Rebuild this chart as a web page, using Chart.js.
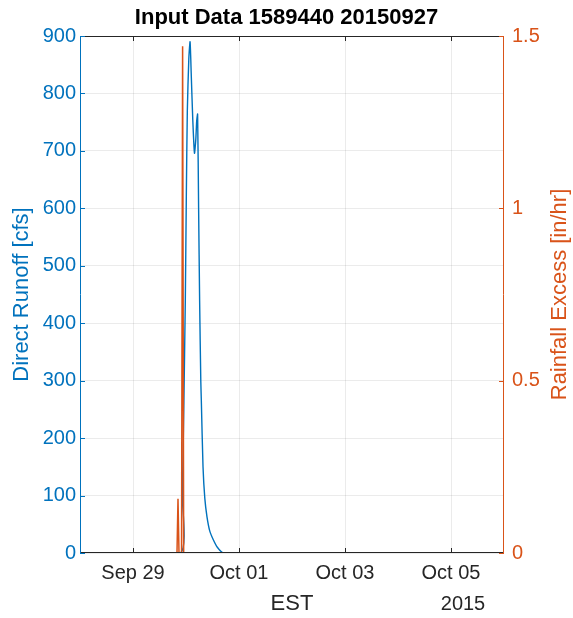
<!DOCTYPE html>
<html>
<head>
<meta charset="utf-8">
<script src="https://cdn.jsdelivr.net/npm/chart.js@4/dist/chart.umd.min.js"></script>
<style>
  body { margin: 0; background: #fff; }
  canvas { display: block; }
</style>
</head>
<body>
<canvas id="myChart" width="573" height="618"></canvas>
<script>
// days counted from Sep 28 2015 00:00 EST
const tickDays = [1, 3, 5, 7];
const tickLabels = ['Sep 29', 'Oct 01', 'Oct 03', 'Oct 05'];
const yearLabel = '2015';

const runoffDays = [0, 1.892, 1.930, 1.958, 1.987, 2.006, 2.025, 2.053, 2.077, 2.100, 2.128, 2.160, 2.185, 2.202,
    2.219, 2.238, 2.257, 2.279, 2.289, 2.321, 2.355, 2.396, 2.449, 2.515, 2.591, 2.704, 8];
const runoffCfs = [0, 0, 100, 250, 440, 620, 770, 860, 890, 830, 754, 696, 720, 752,
    764, 600, 440, 300, 266, 150, 95, 63, 38, 23, 10, 0, 0];

const rainDays = [0, 1.830, 1.849, 1.868, 1.916, 1.936, 1.956, 8];
const rainExcess = [0, 0, 0.157, 0, 0, 1.47, 0, 0];

const blue = 'rgb(0, 114, 189)';
const orange = 'rgb(217, 83, 25)';
const dark = 'rgb(38, 38, 38)';
const gridColor = 'rgba(38, 38, 38, 0.09)';
const font = 'Liberation Sans, Arial, Helvetica, sans-serif';

const toPoints = (xs, ys) => xs.map((x, i) => ({x: x, y: ys[i]}));

// MATLAB style box with inward ticks, right label reading upwards
const framePlugin = {
    id: 'frame',
    afterDraw(chart) {
        const ctx = chart.ctx;
        const a = chart.chartArea;
        const sx = chart.scales.x, sy = chart.scales.y, sy1 = chart.scales.y1;
        const t = 5;
        ctx.save();
        ctx.lineWidth = 1;
        ctx.strokeStyle = dark;
        ctx.beginPath();
        ctx.moveTo(a.left, a.top + 0.5); ctx.lineTo(a.right, a.top + 0.5);
        ctx.moveTo(a.left, a.bottom - 0.5); ctx.lineTo(a.right, a.bottom - 0.5);
        tickDays.forEach(d => {
            const px = Math.round(sx.getPixelForValue(d)) + 0.5;
            ctx.moveTo(px, a.bottom); ctx.lineTo(px, a.bottom - t);
            ctx.moveTo(px, a.top); ctx.lineTo(px, a.top + t);
        });
        ctx.stroke();
        ctx.strokeStyle = blue;
        ctx.beginPath();
        ctx.moveTo(a.left + 0.5, a.top); ctx.lineTo(a.left + 0.5, a.bottom);
        sy.ticks.forEach(tk => {
            const py = Math.round(sy.getPixelForValue(tk.value)) + 0.5;
            ctx.moveTo(a.left, py); ctx.lineTo(a.left + t, py);
        });
        ctx.stroke();
        ctx.strokeStyle = orange;
        ctx.beginPath();
        ctx.moveTo(a.right - 0.5, a.top); ctx.lineTo(a.right - 0.5, a.bottom);
        sy1.ticks.forEach(tk => {
            const py = Math.round(sy1.getPixelForValue(tk.value)) + 0.5;
            ctx.moveTo(a.right, py); ctx.lineTo(a.right - t, py);
        });
        ctx.stroke();
        ctx.fillStyle = dark;
        ctx.font = '20px ' + font;
        ctx.textAlign = 'center';
        ctx.textBaseline = 'middle';
        ctx.fillText(yearLabel, 463, 604);
        ctx.translate(560, (a.top + a.bottom) / 2);
        ctx.rotate(-Math.PI / 2);
        ctx.fillStyle = orange;
        ctx.font = '22px ' + font;
        ctx.fillText('Rainfall Excess [in/hr]', 0, 0);
        ctx.restore();
    }
};

const config = {
    type: 'line',
    data: {
        datasets: [{
            label: 'Direct Runoff',
            data: toPoints(runoffDays, runoffCfs),
            borderColor: blue,
            borderWidth: 1.4,
            pointRadius: 0,
            tension: 0.2,
            yAxisID: 'y',
            order: 2
        }, {
            label: 'Rainfall Excess',
            data: toPoints(rainDays, rainExcess),
            borderColor: orange,
            borderWidth: 1.5,
            pointRadius: 0,
            tension: 0,
            yAxisID: 'y1',
            order: 1
        }]
    },
    options: {
        responsive: false,
        animation: false,
        devicePixelRatio: 1,
        layout: { padding: 0 },
        plugins: {
            legend: { display: false },
            tooltip: { enabled: false },
            title: {
                display: true,
                text: 'Input Data 1589440 20150927',
                color: 'rgb(0, 0, 0)',
                font: { family: font, size: 22, weight: 'bold', lineHeight: 1.2 },
                padding: { top: 5, bottom: 4.6 }
            }
        },
        scales: {
            x: {
                type: 'linear',
                min: 0,
                max: 8,
                afterBuildTicks: s => { s.ticks = tickDays.map(v => ({value: v})); },
                afterFit: s => { s.height = 65; },
                ticks: {
                    color: dark,
                    font: { family: font, size: 20 },
                    padding: 8,
                    maxRotation: 0,
                    callback: v => tickLabels[tickDays.indexOf(v)]
                },
                grid: { color: gridColor, drawTicks: false },
                border: { display: false },
                title: {
                    display: true,
                    text: 'EST',
                    color: dark,
                    font: { family: font, size: 22 },
                    padding: { top: 0, bottom: 1 }
                }
            },
            y: {
                position: 'left',
                min: 0,
                max: 900,
                afterFit: s => { s.width = 80; },
                ticks: {
                    stepSize: 100,
                    color: blue,
                    font: { family: font, size: 20 },
                    padding: 4
                },
                grid: { color: gridColor, drawTicks: false },
                border: { display: false },
                title: {
                    display: true,
                    text: 'Direct Runoff [cfs]',
                    color: blue,
                    font: { family: font, size: 22 },
                    padding: { top: 9, bottom: 0 }
                }
            },
            y1: {
                position: 'right',
                min: 0,
                max: 1.5,
                afterFit: s => { s.width = 69; },
                ticks: {
                    stepSize: 0.5,
                    color: orange,
                    font: { family: font, size: 20 },
                    padding: 8,
                    callback: v => String(v)
                },
                grid: { drawOnChartArea: false, drawTicks: false },
                border: { display: false },
                title: { display: false }
            }
        }
    },
    plugins: [framePlugin]
};

const myChart = new Chart(document.getElementById('myChart'), config);
</script>
</body>
</html>
